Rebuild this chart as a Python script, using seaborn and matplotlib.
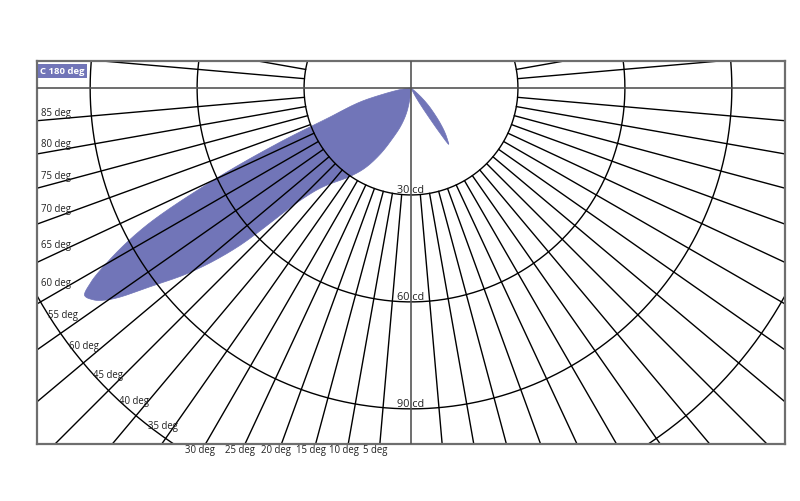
import numpy as np
import pandas as pd
import matplotlib
matplotlib.use("Agg")
import matplotlib.pyplot as plt
import seaborn as sns

# ---------------- data ----------------
# C180 plane (drawn to the left), gamma angle from nadir in degrees, intensity in cd
c180_angles = [0, 5, 10, 15, 20, 25, 30, 35, 40, 42.5, 45, 47.5, 50, 52.5, 55,
               56.25, 57.5, 58.75, 60, 62.5, 65, 67.5, 70, 72.5, 75, 77.5, 80, 85, 90]
c180_cd = [1, 2.5, 7, 11, 15, 20.5, 26, 30.5, 35, 38.5, 46, 66, 80, 91, 103.5,
           107, 108.5, 105, 99, 84, 61, 40, 25, 19, 14, 8, 4.5, 1, 0]
# C0 plane (drawn to the right)
c0_angles = [25, 28.75, 31.25, 32.5, 33.75, 35, 37.5, 40, 42.5, 45, 47.5, 52.5]
c0_cd = [0, 4, 9, 14, 19, 18, 15.5, 12.5, 9.5, 7, 4.5, 0]

ring_values = [30, 60, 90, 120]
ring_labels = ["30 cd", "60 cd", "90 cd"]
ray_angles = [a for a in range(-100, 101, 5) if a not in (0, 90, -90)]

left_label_angles = [85, 80, 75, 70, 65, 60]
left_label_texts = ["85 deg", "80 deg", "75 deg", "70 deg", "65 deg", "60 deg"]
ring_label_angles = [55, 50, 45, 40, 35]
ring_label_texts = ["55 deg", "60 deg", "45 deg", "40 deg", "35 deg"]
bottom_label_angles = [30, 25, 20, 15, 10, 5]
bottom_label_texts = ["30 deg", "25 deg", "20 deg", "15 deg", "10 deg", "5 deg"]
plane_label = "C 180 deg"

# ---------------- style ----------------
sns.set_theme(style="white")
plt.rcParams["font.family"] = ["Open Sans", "DejaVu Sans"]

LOBE = "#7175b8"
S = 3.565            # pixels per cd in the reference layout
W, H = 800, 502

fig = plt.figure(figsize=(W / 100, H / 100), dpi=100)
ax = fig.add_axes([37 / W, 57 / H, 748 / W, 383 / H])
xmax = 374 / S
ytop = 27 / S
ybot = -356 / S
ax.set_xlim(-xmax, xmax)
ax.set_ylim(ybot, ytop)
ax.set_xticks([])
ax.set_yticks([])
for sp in ax.spines.values():
    sp.set_color("#6e6e6e")
    sp.set_linewidth(1.6)


def polar(angle_deg, r, side):
    a = np.radians(np.asarray(angle_deg, dtype=float))
    r = np.asarray(r, dtype=float)
    return side * r * np.sin(a), -r * np.cos(a)


def smooth_curve(xs, ys, n=40):
    """Monotone cubic (Fritsch-Carlson) rendering of a curve through the points."""
    xs = np.asarray(xs, float)
    ys = np.asarray(ys, float)
    h = np.diff(xs)
    d = np.diff(ys) / h
    m = np.zeros_like(ys)
    m[0], m[-1] = d[0], d[-1]
    for i in range(1, len(xs) - 1):
        if d[i - 1] * d[i] <= 0:
            m[i] = 0
        else:
            w1 = 2 * h[i] + h[i - 1]
            w2 = h[i] + 2 * h[i - 1]
            m[i] = (w1 + w2) / (w1 / d[i - 1] + w2 / d[i])
    out_x, out_y = [], []
    for i in range(len(xs) - 1):
        t = np.linspace(0, 1, n, endpoint=False)
        h00 = 2 * t**3 - 3 * t**2 + 1
        h10 = t**3 - 2 * t**2 + t
        h01 = -2 * t**3 + 3 * t**2
        h11 = t**3 - t**2
        out_x.append(xs[i] + t * h[i])
        out_y.append(h00 * ys[i] + h10 * h[i] * m[i] + h01 * ys[i + 1] + h11 * h[i] * m[i + 1])
    out_x.append([xs[-1]])
    out_y.append([ys[-1]])
    return np.concatenate(out_x), np.clip(np.concatenate(out_y), 0, None)


# ---------------- lobes ----------------
lobe_parts = []
for angs, vals, side, name in ((c180_angles, c180_cd, -1, "c180"), (c0_angles, c0_cd, 1, "c0")):
    ta, tv = smooth_curve(angs, vals)
    xx, yy = polar(ta, tv, side)
    xx = np.concatenate([[0], xx, [0]])
    yy = np.concatenate([[0], yy, [0]])
    ax.fill(xx, yy, color=LOBE, lw=0, zorder=1)
    lobe_parts.append(pd.DataFrame({"x": xx, "y": yy, "part": name}))
lobe_df = pd.concat(lobe_parts, ignore_index=True)
sns.lineplot(data=lobe_df, x="x", y="y", units="part", estimator=None, sort=False,
             color=LOBE, lw=0.5, ax=ax, zorder=1)

# ---------------- grid ----------------
rows = []
for a in ray_angles:
    for r in (ring_values[0], 250):
        xx, yy = polar(a, r, -1)
        rows.append((float(xx), float(yy), f"ray{a}"))
t = np.linspace(0, 2 * np.pi, 721)
for rv in ring_values:
    for tt in t:
        rows.append((rv * np.cos(tt), rv * np.sin(tt), f"ring{rv}"))
grid_df = pd.DataFrame(rows, columns=["x", "y", "id"])
sns.lineplot(data=grid_df, x="x", y="y", units="id", estimator=None, sort=False,
             color="black", lw=1.0, ax=ax, zorder=2)

ax.axhline(0, color="#555555", lw=1.2, zorder=3)
ax.axvline(0, color="#555555", lw=1.2, zorder=3)
ax.set_xlabel("")
ax.set_ylabel("")

# ---------------- labels ----------------
txt = dict(color="#222222", fontsize=6.9, zorder=5)
for rv, lab in zip(ring_values, ring_labels):
    ax.text(0, -(rv - 1.5), lab, ha="center", va="center", color="#222222",
            fontsize=7.8, zorder=5)

lx = -(411 - 41) / S
for a, lab in zip(left_label_angles, left_label_texts):
    yy = -(351 / S) / np.tan(np.radians(a + 1))
    ax.text(lx, yy, lab, ha="left", va="center", **txt)

for a, lab in zip(ring_label_angles, ring_label_texts):
    xx, yy = polar(a + 3, ring_values[-1], -1)
    ax.text(xx, yy, lab, ha="left", va="center", **txt)

for a, lab in zip(bottom_label_angles, bottom_label_texts):
    xx = ybot * np.tan(np.radians(a + 0.7))
    ax.text(xx, ybot - 6 / S, lab, ha="center", va="center", clip_on=False, **txt)

ax.text(-(411 - 40) / S, -(72 - 89) / S, plane_label, ha="left", va="center",
        color="white", fontsize=6.8, fontweight="bold", zorder=6,
        bbox=dict(boxstyle="square,pad=0.25", fc=LOBE, ec="none"))

fig.savefig("out.png", dpi=100)
